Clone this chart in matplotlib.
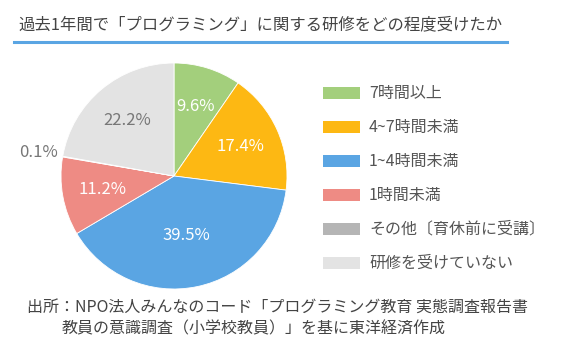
import numpy as np
import matplotlib.pyplot as plt
from matplotlib.patches import Rectangle
from matplotlib.lines import Line2D

plt.rcParams['font.family'] = ['Noto Sans CJK JP', 'DejaVu Sans']

# data
categories = ['7時間以上', '4~7時間未満', '1~4時間未満', '1時間未満',
              'その他〔育休前に受講〕', '研修を受けていない']
values = [9.6, 17.4, 39.5, 11.2, 0.1, 22.2]
colors = ['#a3cf7c', '#fdb813', '#5aa5e3', '#ee8b84', '#b5b5b5', '#e3e3e3']
label_colors = ['white', 'white', 'white', 'white', '#777777', '#777777']
title = '過去1年間で「プログラミング」に関する研修をどの程度受けたか'
source = ['出所：NPO法人みんなのコード「プログラミング教育 実態調査報告書',
          '教員の意識調査（小学校教員）」を基に東洋経済作成']

fig = plt.figure(figsize=(5.7, 3.51), dpi=100)
W, H = 570, 351

# title + underline
fig.text(18 / W, 1 - 25 / H, title, fontsize=11.8, color='#444444',
         ha='left', va='center')
fig.add_artist(Line2D([14 / W, 507 / W], [1 - 42 / H, 1 - 42 / H],
                      color='#5aa5e3', lw=2.2, transform=fig.transFigure))

# pie
cx, cy, r = 174, 176, 113
ax = fig.add_axes([(cx - r) / W, (H - cy - r) / H, 2 * r / W, 2 * r / H])
wedges, _ = ax.pie(values, colors=colors, startangle=90, counterclock=False,
                   radius=1, wedgeprops=dict(linewidth=0.6, edgecolor='white'))
ax.set_xlim(-1, 1)
ax.set_ylim(-1, 1)
ax.set_aspect('equal')
ax.axis('off')

for w, v, lc in zip(wedges, values, label_colors):
    ang = np.deg2rad((w.theta1 + w.theta2) / 2)
    d = 1.22 if v < 1 else (0.54 if v > 30 else 0.64)
    ax.text(d * np.cos(ang), d * np.sin(ang), f'{v:.1f}%', color=lc,
            fontsize=12, ha='center', va='center', clip_on=False)

# legend
for i, (cat, col) in enumerate(zip(categories, colors)):
    y = 93 + i * 34
    fig.add_artist(Rectangle((323 / W, 1 - (y + 6) / H), 37 / W, 12 / H,
                             facecolor=col, edgecolor='none',
                             transform=fig.transFigure))
    fig.text(369 / W, 1 - y / H, cat, fontsize=11.5, color='#555555',
             ha='left', va='center')

# source
fig.text(27 / W, 1 - 307 / H, source[0], fontsize=11.5, color='#444444',
         ha='left', va='center')
fig.text(62 / W, 1 - 329 / H, source[1], fontsize=11.5, color='#444444',
         ha='left', va='center')

fig.savefig('out.png', dpi=100)
